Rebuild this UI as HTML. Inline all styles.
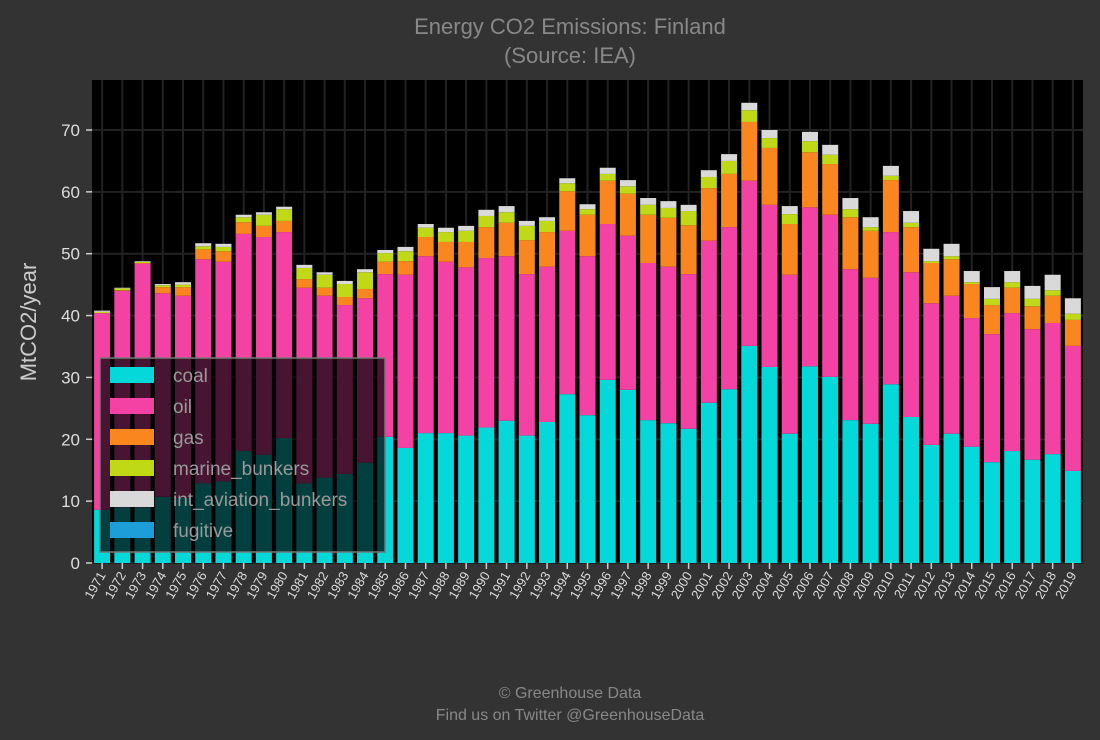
<!DOCTYPE html>
<html><head><meta charset="utf-8"><style>
body{margin:0;background:#333;}
svg{display:block;font-family:"Liberation Sans",sans-serif;}
</style></head><body>
<svg id="chart" width="1100" height="740">
<rect x="0" y="0" width="1100" height="740" fill="#333"/>
<text x="570" y="34" text-anchor="middle" fill="#888" font-size="22">Energy CO2 Emissions: Finland</text>
<text x="570" y="63" text-anchor="middle" fill="#888" font-size="22">(Source: IEA)</text>
<rect x="92" y="80" width="991" height="483" fill="#000"/>
<g id="grid"></g><g id="bars"></g><g id="axes"></g>
<text transform="translate(36,322) rotate(-90)" text-anchor="middle" fill="#ccc" font-size="22">MtCO2/year</text>
<g id="legend"></g>
<text x="570" y="698" text-anchor="middle" fill="#888" font-size="16">© Greenhouse Data</text>
<text x="570" y="720" text-anchor="middle" fill="#888" font-size="16">Find us on Twitter @GreenhouseData</text>
</svg>
<script>
const years=[1971,1972,1973,1974,1975,1976,1977,1978,1979,1980,1981,1982,1983,1984,1985,1986,1987,1988,1989,1990,1991,1992,1993,1994,1995,1996,1997,1998,1999,2000,2001,2002,2003,2004,2005,2006,2007,2008,2009,2010,2011,2012,2013,2014,2015,2016,2017,2018,2019];
const coal=[8.6,9.0,9.0,10.7,10.5,12.9,13.2,18.1,17.5,20.2,12.9,13.8,14.4,16.2,20.4,18.6,21.0,21.0,20.6,21.9,23.0,20.6,22.8,27.3,23.9,29.6,28.0,23.1,22.6,21.7,25.9,28.1,35.1,31.7,20.9,31.8,30.1,23.1,22.5,28.9,23.6,19.1,20.9,18.8,16.3,18.1,16.7,17.6,14.9];
const oil=[31.8,35.0,39.4,32.9,32.7,36.2,35.5,35.1,35.2,33.3,31.6,29.4,27.3,26.6,26.3,28.0,28.6,27.7,27.2,27.4,26.6,26.1,25.1,26.4,25.7,25.2,24.9,25.4,25.3,25.0,26.2,26.2,26.7,26.2,25.7,25.7,26.2,24.4,23.6,24.6,23.4,22.9,22.3,20.8,20.7,22.3,21.1,21.2,20.2];
const gas=[0,0.1,0.1,1.0,1.4,1.6,1.7,1.9,1.8,1.8,1.4,1.3,1.3,1.5,2.0,2.2,3.1,3.2,4.1,5.0,5.4,5.5,5.6,6.4,6.7,7.0,6.8,7.8,7.9,7.9,8.5,8.6,9.5,9.2,8.2,8.9,8.2,8.4,7.6,8.4,7.3,6.5,5.9,5.5,4.7,4.1,3.7,4.4,4.2];
const marine=[0.2,0.3,0.2,0.3,0.4,0.5,0.7,0.8,1.8,1.9,1.8,2.1,2.1,2.7,1.4,1.6,1.5,1.6,1.8,1.8,1.7,2.3,1.8,1.3,0.9,1.1,1.2,1.6,1.6,2.3,1.8,2.1,1.9,1.6,1.6,1.8,1.5,1.3,0.6,0.7,0.7,0.3,0.5,0.3,1.0,0.9,1.2,0.9,1.0];
const aviation=[0.2,0.1,0.1,0.2,0.4,0.5,0.5,0.4,0.4,0.4,0.5,0.4,0.5,0.5,0.5,0.7,0.6,0.7,0.8,1.0,1.0,0.8,0.6,0.8,0.8,1.0,1.0,1.1,1.1,1.0,1.1,1.1,1.2,1.3,1.3,1.5,1.6,1.8,1.6,1.6,1.9,2.0,2.0,1.8,1.9,1.8,2.1,2.5,2.5];
const fugitive=years.map(()=>0);
const yTicks=[0,10,20,30,40,50,60,70];
const seriesNames=["coal","oil","gas","marine_bunkers","int_aviation_bunkers","fugitive"];
const seriesColors=["#04d8d8","#f342a4","#fa8620","#bfd916","#d9d9d9","#1d9ed8"];
const seriesData=[coal,oil,gas,marine,aviation,fugitive];

const NS="http://www.w3.org/2000/svg";
const X0=92,X1=1083,Y0=563,YT=80;
const step=(X1-X0)/years.length, bw=16;
const y=v=>Y0-v*(433/70);
const xc=i=>X0+step*(i+0.5);
function mk(tag,attrs,parent){const e=document.createElementNS(NS,tag);for(const k in attrs)e.setAttribute(k,attrs[k]);parent.appendChild(e);return e;}
const grid=document.getElementById('grid'),bars=document.getElementById('bars'),axes=document.getElementById('axes'),legend=document.getElementById('legend');
yTicks.forEach(t=>{
 const l=mk('line',{x1:X0,x2:X1,y1:y(t),y2:y(t),stroke:'#222','stroke-width':2},grid);
 
 
 const tk=mk('line',{x1:X0-6,x2:X0,y1:y(t),y2:y(t),stroke:'#ccc','stroke-width':1.5},axes);
 
 
 const tx=mk('text',{x:X0-12,y:y(t)+6,'text-anchor':'end',fill:'#ddd','font-size':17},axes);
 tx.textContent=t;
 
 
});
years.forEach((yr,i)=>{
 const gl=mk('line',{x1:xc(i),x2:xc(i),y1:YT,y2:Y0,stroke:'#222','stroke-width':2},grid);
 
 
 let cum=0;
 seriesData.forEach((arr,s)=>{
  const v=arr[i]; if(v<=0){return;}
  const r=mk('rect',{x:xc(i)-bw/2,y:y(cum+v),width:bw,height:y(cum)-y(cum+v),fill:seriesColors[s]},bars);
  
  
  cum+=v;
 });
 const tk=mk('line',{x1:xc(i),x2:xc(i),y1:Y0,y2:Y0+6,stroke:'#ccc','stroke-width':1.5},axes);
 
 
 const tx=mk('text',{transform:`translate(${xc(i)+4},${Y0+12}) rotate(-60)`,'text-anchor':'end',fill:'#ddd','font-size':13},axes);
 tx.textContent=yr;
 
 
});
const lb=mk('rect',{x:100,y:358,width:285,height:194,fill:'rgba(4,4,4,0.72)',stroke:'#777','stroke-width':1.5},legend);


seriesNames.forEach((n,s)=>{
 const yy=367+s*31;
 const p=mk('rect',{x:110,y:yy,width:44,height:16,fill:seriesColors[s]},legend);
 
 
 const t=mk('text',{x:173,y:yy+15,fill:'#999','font-size':19},legend);
 t.textContent=n;
 
 
});
</script>
</body></html>
